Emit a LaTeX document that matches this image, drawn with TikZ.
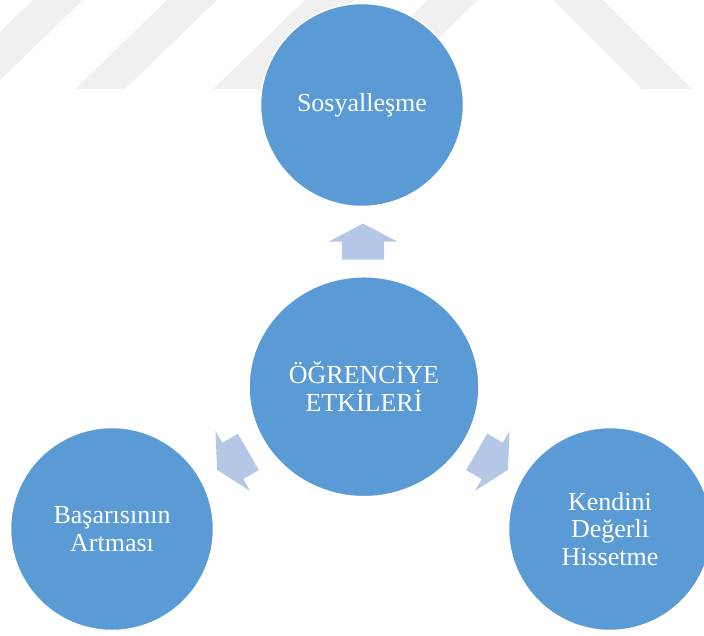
\documentclass[tikz,border=0pt]{standalone}
\usepackage{fontspec}
\setmainfont{Liberation Serif}
\usepackage{tikz}
\usetikzlibrary{calc, shapes.geometric}

\definecolor{bubbleblue}{HTML}{5B9BD5}
\definecolor{arrowblue}{HTML}{B4C7E7}
\definecolor{markgray}{HTML}{F0F0F0}

\begin{document}
\begin{tikzpicture}[x=1pt, y=-1pt,
		pics/blockarrow/.style={code={
			\fill[arrowblue] (18,0) -- (0,-34.5) -- (0,-21) -- (-18,-21) -- (-18,21) -- (0,21) -- (0,34.5) -- cycle;}}]
		\tikzstyle{bubble}=[circle, fill=bubbleblue, draw=white, line width=1.5pt, text=white, align=center, inner sep=0pt, minimum size=203pt, font=\fontsize{26}{27.5}\selectfont]
		\tikzstyle{hubbubble}=[bubble, ellipse, minimum width=230pt, minimum height=220pt]
		
		\useasboundingbox (0,0) rectangle (704,635);
		
		% watermark stripes
		\begin{scope}
			\clip (0,0) rectangle (704,635);
			\foreach \s in {33,167,305,428}
				\fill[markgray] (\s,0) -- (\s+50,0) -- (\s-42,89) -- (\s-92,89) -- cycle;
			\fill[markgray] (553,0) -- (603,0) -- (692,89) -- (642,89) -- cycle;
		\end{scope}
		
		\node[hubbubble] (hub) at (364,386.7) {ÖĞRENCİYE\\ETKİLERİ};
		\node[bubble] (soc) at (362,105) {Sosyalleşme};
		\node[bubble] (bas) at (112,529) {Başarısının\\Artması};
		\node[bubble] (ken) at (610,529) {Kendini\\Değerli\\Hissetme};
		
		\coordinate (up) at ($(hub.north)!0.5!(soc.south)$);
		\coordinate (dl) at ($(hub.210)!0.5!(bas.30)$);
		\coordinate (dr) at ($(hub.-30)!0.5!(ken.150)$);
		
		\pic[rotate=90] at (up) {blockarrow};
		\pic[rotate=210] at (dl) {blockarrow};
		\pic[rotate=-30] at (dr) {blockarrow};
	\end{tikzpicture}
\end{document}
